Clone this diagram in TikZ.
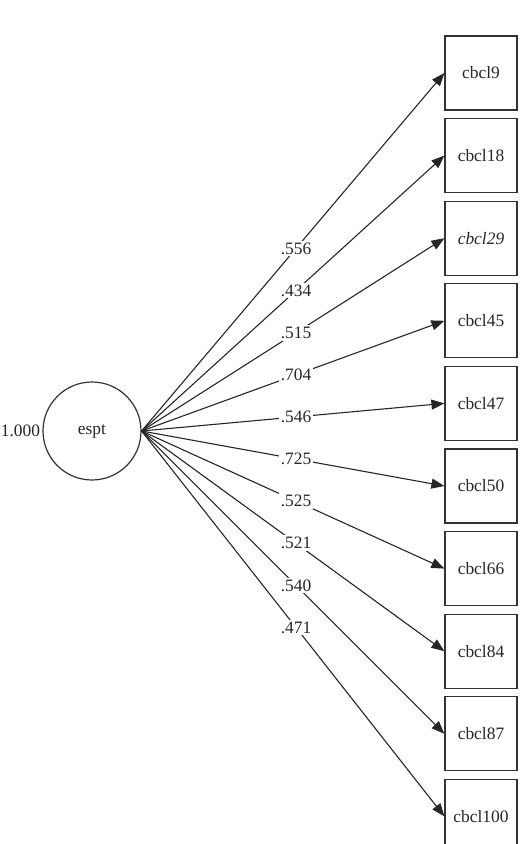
\documentclass[tikz,border=0pt]{standalone}
\usepackage{fontspec}
\setmainfont{Liberation Serif}
\usetikzlibrary{positioning, arrows.meta}

\begin{document}
\begin{tikzpicture}[
    x=0.5pt, y=-0.5pt,
    every node/.style={font=\fontsize{8.7pt}{10pt}\selectfont, text=black!85},
    latent/.style={circle, draw=black!80, line width=0.6pt, minimum size=49pt, inner sep=0pt},
    obs/.style={rectangle, draw=black!80, line width=0.6pt, minimum width=36pt, minimum height=37pt, inner sep=0pt},
    arr/.style={-{Triangle[length=6.5pt, width=5pt]}, line width=0.55pt, black!85},
    coef/.style={fill=white, inner sep=1pt},
]
\useasboundingbox (0,0) rectangle (522,844);

% ---------- latent factor ----------
\node[latent] (espt) at (92,431) {espt};
\node[left=1pt of espt, inner sep=0pt] (var) {1.000};

% ---------- indicators with loadings ----------
\foreach \name/\txt/\lam [count=\i from 0] in {
    c9/cbcl9/.556, c18/cbcl18/.434, c29/{\itshape cbcl29}/.515,
    c45/cbcl45/.704, c47/cbcl47/.546, c50/cbcl50/.725,
    c66/cbcl66/.525, c84/cbcl84/.521, c87/cbcl87/.540, c100/cbcl100/.471}
{
  \node[obs] (\name) at (481,{73+82.6*\i}) {\txt};
  \draw[arr] (espt.east) -- (\name.west) node[coef, pos=0.51] {\lam};
}

\end{tikzpicture}
\end{document}
